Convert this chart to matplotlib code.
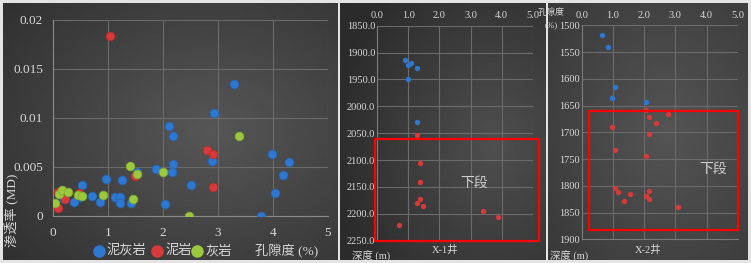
import numpy as np
import matplotlib
matplotlib.use("Agg")
import matplotlib.pyplot as plt
from matplotlib.lines import Line2D
from matplotlib.patches import Rectangle

# ---- data ----
# left panel: porosity (%) vs permeability (MD)
marl_por = [3.29, 2.93, 2.12, 2.19, 3.98, 4.29, 4.19, 4.04, 3.78, 2.90, 2.19, 2.17, 1.88, 2.51,
            2.05, 1.53, 0.96, 1.26, 0.54, 0.72, 0.86, 1.14, 1.23, 1.22, 1.43, 0.38, 0.20, 0.50]
marl_perm = [0.0135, 0.0105, 0.0092, 0.0081, 0.0063, 0.0055, 0.0042, 0.0023, 0.0000, 0.0056,
             0.0053, 0.0045, 0.0048, 0.0031, 0.0012, 0.0045, 0.0038, 0.0036, 0.0031, 0.0020,
             0.0014, 0.0019, 0.0019, 0.0013, 0.0013, 0.0014, 0.0017, 0.0019]
mud_por = [1.05, 2.81, 2.91, 2.92, 1.50, 0.09, 0.23, 0.10, 0.47]
mud_perm = [0.0184, 0.0067, 0.0063, 0.0029, 0.0041, 0.0008, 0.0017, 0.0024, 0.0023]
lime_por = [3.38, 1.41, 1.53, 2.00, 0.92, 1.46, 2.48, 0.04, 0.11, 0.17, 0.27, 0.46, 0.53]
lime_perm = [0.0081, 0.0051, 0.0043, 0.0045, 0.0021, 0.0017, 0.0000, 0.0013, 0.0022, 0.0026,
             0.0024, 0.0021, 0.0020]

# X-1 well: porosity vs depth
x1_blue_por = [0.88, 1.08, 0.98, 1.28, 0.98, 1.28]
x1_blue_dep = [1914, 1919, 1924, 1929, 1949, 2029]
x1_red_por = [1.28, 1.37, 1.37, 1.37, 1.28, 1.48, 3.39, 3.89, 0.69]
x1_red_dep = [2053, 2105, 2140, 2173, 2179, 2186, 2194, 2205, 2221]

# X-2 well
x2_blue_por = [0.65, 0.85, 1.06, 0.96, 2.07]
x2_blue_dep = [1519, 1541, 1616, 1635, 1643]
x2_red_por = [2.07, 2.17, 2.78, 2.37, 0.96, 2.17, 1.06, 2.07, 1.06, 1.15, 2.17, 1.56, 2.07,
              2.17, 1.36, 3.08]
x2_red_dep = [1658, 1671, 1666, 1683, 1690, 1703, 1734, 1744, 1804, 1812, 1809, 1815, 1819,
              1825, 1829, 1840]

legend_names = ["泥灰岩", "泥岩", "灰岩"]

BLUE = "#2e78d2"
RED = "#d63a3a"
GREEN = "#9bc83c"
TXT = "#d9d9d9"
GRID = "#6b6b6b"
FONT = ["Liberation Serif", "Noto Sans CJK SC"]

W, H = 751, 263
fig = plt.figure(figsize=(W / 100, H / 100), dpi=100)
fig.patch.set_facecolor("#e4e4e4")


def px(x0, y0, x1, y1):
    # pixel box (top-left origin) -> figure rect
    return [x0 / W, 1 - y1 / H, (x1 - x0) / W, (y1 - y0) / H]


def background(rect, cx, cy, inner, outer):
    bg = fig.add_axes(rect)
    yy, xx = np.mgrid[0:1:100j, 0:1:100j]
    r = np.sqrt((xx - cx) ** 2 + (yy - cy) ** 2) / 0.8
    val = inner - (inner - outer) * np.clip(r, 0, 1)
    bg.imshow(val, cmap="gray", vmin=0, vmax=1, aspect="auto",
              extent=(0, 1, 0, 1), origin="upper")
    bg.set_axis_off()


background(px(3, 3, 338, 260), 0.62, 0.5, 0.34, 0.19)
background(px(340, 3, 546, 260), 0.75, 0.55, 0.31, 0.17)
background(px(548, 3, 748, 260), 0.6, 0.5, 0.33, 0.22)


def style(ax, size):
    ax.set_facecolor("none")
    ax.grid(True, color=GRID, lw=0.8)
    ax.set_axisbelow(True)
    for s in ax.spines.values():
        s.set_visible(False)
    ax.tick_params(length=0, colors=TXT, labelsize=size)
    for lab in ax.get_xticklabels() + ax.get_yticklabels():
        lab.set_family(FONT)


# ---- left: scatter ----
ax1 = fig.add_axes(px(52.7, 20, 327.7, 215.7))
ax1.scatter(marl_por, marl_perm, s=40, color=BLUE, edgecolor="#2563b0", lw=0.5, zorder=3)
ax1.scatter(mud_por, mud_perm, s=40, color=RED, edgecolor="#b02a2a", lw=0.5, zorder=4)
ax1.scatter(lime_por, lime_perm, s=40, color=GREEN, edgecolor="#7da52c", lw=0.5, zorder=5)
ax1.set_xlim(0, 5)
ax1.set_ylim(0, 0.02)
ax1.set_xticks([0, 1, 2, 3, 4, 5])
ax1.set_yticks([0, 0.005, 0.01, 0.015, 0.02])
ax1.set_yticklabels(["0", "0.005", "0.01", "0.015", "0.02"])
style(ax1, 9.5)
ax1.tick_params(axis="x", pad=8)
ax1.tick_params(axis="y", pad=7)
ax1.spines["left"].set_visible(True)
ax1.spines["bottom"].set_visible(True)
ax1.spines["left"].set_color("#8a8a8a")
ax1.spines["bottom"].set_color("#8a8a8a")

fig.text(12 / W, 1 - 210 / H, "渗透率 (MD)", rotation=90, ha="center", va="center",
         color=TXT, fontsize=9.5, family=FONT)
for (mx, tx), name, col in zip([(99, 107), (157, 165), (197, 205)], legend_names,
                               [BLUE, RED, GREEN]):
    fig.add_artist(Line2D([mx / W], [1 - 251 / H], marker="o", ms=8, color=col,
                          transform=fig.transFigure))
    fig.text(tx / W, 1 - 251 / H, name, ha="left", va="center", color=TXT,
             fontsize=9.5, family=FONT)
fig.text(255 / W, 1 - 251 / H, "孔隙度 (%)", ha="left", va="center", color=TXT,
         fontsize=9.5, family=FONT)


# ---- depth panels ----
def depth_panel(rect, bp, bd, rp, rd, ylim, step, fmt, box, txt_xy, title, dx):
    ax = fig.add_axes(rect)
    ax.scatter(bp, bd, s=15, color=BLUE, lw=0, zorder=3)
    ax.scatter(rp, rd, s=15, color=RED, lw=0, zorder=3)
    ax.set_xlim(0, 5)
    ax.set_ylim(ylim[1], ylim[0])
    ax.set_xticks(np.arange(0, 5.01, 1.0))
    ax.set_xticklabels([f"{v:.1f}" for v in np.arange(0, 5.01, 1.0)])
    yt = np.arange(ylim[0], ylim[1] + 1, step)
    ax.set_yticks(yt)
    ax.set_yticklabels([fmt.format(v) for v in yt])
    ax.xaxis.tick_top()
    style(ax, 7.5)
    ax.tick_params(axis="x", pad=4)
    ax.tick_params(axis="y", pad=1.5)
    ax.spines["left"].set_visible(True)
    ax.spines["bottom"].set_visible(True)
    ax.spines["left"].set_color("#7a7a7a")
    ax.spines["bottom"].set_color("#7a7a7a")
    ax.add_patch(Rectangle((box[0], box[3]), box[1] - box[0], box[2] - box[3],
                           fill=False, ec="#ff0000", lw=1.6, clip_on=False, zorder=6))
    ax.text(txt_xy[0], txt_xy[1], "下段", ha="center", va="center", color="#cfcfcf",
            fontsize=10, family=FONT)
    fig.text(title[0] / W, 1 - title[1] / H, title[2], ha="center", va="center",
             color=TXT, fontsize=7.5, family=FONT)
    fig.text(dx / W, 1 - 256 / H, "深度 (m)", ha="left", va="center", color=TXT,
             fontsize=7.5, family=FONT)
    return ax


depth_panel(px(377.3, 25.7, 532.7, 240.7), x1_blue_por, x1_blue_dep, x1_red_por, x1_red_dep,
            (1850, 2250), 50, "{:.1f}", (-0.08, 5.21, 2060, 2250), (3.12, 2143),
            (445, 250, "X-1井"), 352)
depth_panel(px(581.7, 25.3, 737.7, 239.3), x2_blue_por, x2_blue_dep, x2_red_por, x2_red_dep,
            (1500, 1900), 50, "{:.0f}", (0.24, 5.0, 1660, 1883), (4.2, 1770),
            (648, 250, "X-2井"), 550)

fig.text(551 / W, 1 - 12 / H, "孔隙度", ha="center", va="center", color=TXT,
         fontsize=6.5, family=FONT)
fig.text(551 / W, 1 - 25 / H, "(%)", ha="center", va="center", color=TXT,
         fontsize=6.5, family=FONT)

fig.savefig("out.png", dpi=100, facecolor=fig.get_facecolor())
